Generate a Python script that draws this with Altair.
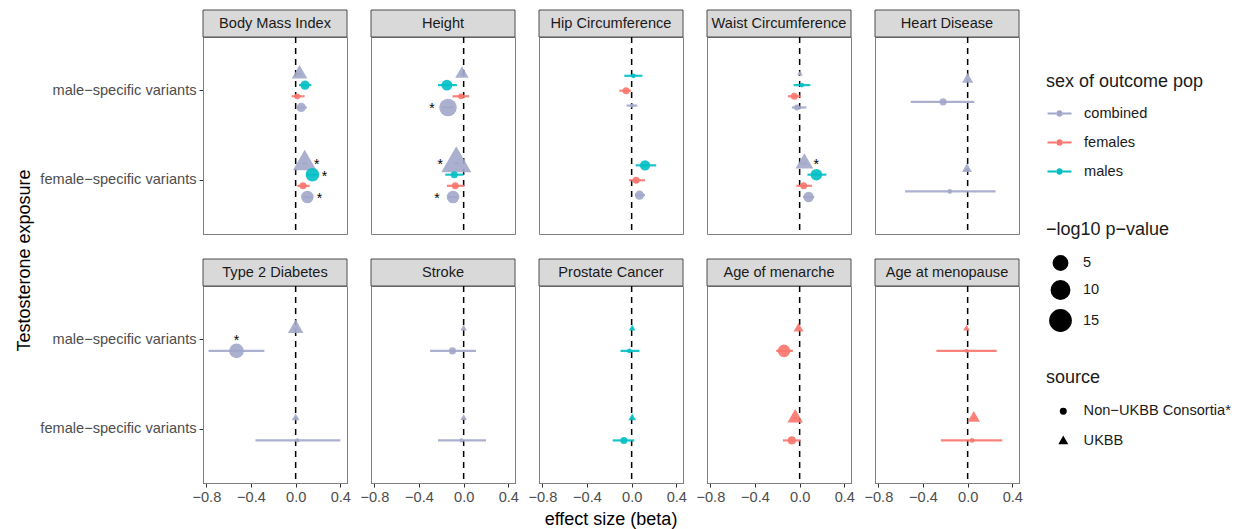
import altair as alt
import pandas as pd

# ---------------- data ----------------
outcomes = ["Body Mass Index", "Height", "Hip Circumference", "Waist Circumference",
            "Heart Disease", "Type 2 Diabetes", "Stroke", "Prostate Cancer",
            "Age of menarche", "Age at menopause"]
exposures = ["male−specific variants", "female−specific variants"]
sexes = ["combined", "females", "males"]
sources = ["Non−UKBB Consortia*", "UKBB"]
sex_colors = ["#A2A7CA", "#F8766D", "#00BFC4"]

row_outcome = [0, 0, 0, 0, 0, 0, 0, 0,
               1, 1, 1, 1, 1, 1, 1, 1,
               2, 2, 2, 2, 2, 2,
               3, 3, 3, 3, 3, 3, 3, 3,
               4, 4, 4, 4,
               5, 5, 5, 5,
               6, 6, 6, 6,
               7, 7, 7, 7,
               8, 8, 8, 8,
               9, 9, 9, 9]
row_exposure = [0, 0, 0, 0, 1, 1, 1, 1,
                0, 0, 0, 0, 1, 1, 1, 1,
                0, 0, 0, 1, 1, 1,
                0, 0, 0, 0, 1, 1, 1, 1,
                0, 0, 1, 1,
                0, 0, 1, 1,
                0, 0, 1, 1,
                0, 0, 1, 1,
                0, 0, 1, 1,
                0, 0, 1, 1]
row_sex = [0, 2, 1, 0, 0, 2, 1, 0,
           0, 2, 1, 0, 0, 2, 1, 0,
           2, 1, 0, 2, 1, 0,
           0, 2, 1, 0, 0, 2, 1, 0,
           0, 0, 0, 0,
           0, 0, 0, 0,
           0, 0, 0, 0,
           2, 2, 2, 2,
           1, 1, 1, 1,
           1, 1, 1, 1]
row_source = [1, 0, 0, 0, 1, 0, 0, 0,
              1, 0, 0, 0, 1, 0, 0, 0,
              0, 0, 0, 0, 0, 0,
              1, 0, 0, 0, 1, 0, 0, 0,
              1, 0, 1, 0,
              1, 0, 1, 0,
              1, 0, 1, 0,
              1, 0, 1, 0,
              1, 0, 1, 0,
              1, 0, 1, 0]
beta = [0.035, 0.084, 0.015, 0.05, 0.081, 0.15, 0.066, 0.105,
        -0.015, -0.15, -0.024, -0.14, -0.066, -0.084, -0.075, -0.095,
        0.015, -0.05, 0.003, 0.12, 0.04, 0.07,
        0.003, 0.02, -0.048, -0.024, 0.042, 0.15, 0.036, 0.08,
        0.0, -0.22, -0.006, -0.16,
        0.0, -0.53, 0.0, 0.015,
        0.0, -0.10, 0.0, -0.02,
        0.005, -0.02, 0.005, -0.07,
        -0.01, -0.14, -0.04, -0.07,
        -0.01, -0.01, 0.055, 0.04]
lo = [0.015, 0.03, -0.036, 0.015, 0.06, 0.10, 0.015, 0.06,
      -0.03, -0.23, -0.10, -0.19, -0.09, -0.165, -0.15, -0.14,
      -0.066, -0.11, -0.045, 0.035, -0.024, 0.03,
      -0.01, -0.054, -0.105, -0.07, 0.02, 0.07, -0.03, 0.03,
      -0.01, -0.51, -0.02, -0.56,
      -0.02, -0.78, -0.01, -0.36,
      -0.01, -0.30, -0.01, -0.23,
      -0.005, -0.10, -0.005, -0.17,
      -0.02, -0.21, -0.06, -0.15,
      -0.02, -0.28, 0.04, -0.24]
hi = [0.055, 0.14, 0.08, 0.10, 0.10, 0.20, 0.126, 0.15,
      0.0, -0.06, 0.05, -0.09, -0.04, 0.0, 0.006, -0.05,
      0.096, -0.006, 0.05, 0.22, 0.12, 0.12,
      0.015, 0.096, 0.012, 0.06, 0.06, 0.24, 0.11, 0.13,
      0.01, 0.06, 0.01, 0.25,
      0.02, -0.28, 0.01, 0.40,
      0.01, 0.11, 0.01, 0.20,
      0.015, 0.07, 0.015, 0.024,
      0.0, -0.06, -0.02, 0.01,
      0.0, 0.26, 0.07, 0.31]
logp = [2.6, 1.3, 0.22, 1.3, 8.8, 4.2, 0.5, 3.35,
        1.65, 2.2, 0.22, 8.8, 17.0, 0.5, 0.5, 3.35,
        0.06, 0.5, 0.01, 1.9, 0.5, 1.3,
        0.01, 0.06, 0.5, 0.22, 3.85, 2.6, 0.5, 1.9,
        0.88, 0.5, 0.6, 0.06,
        2.6, 5.2, 0.2, 0.01,
        0.08, 0.5, 0.08, 0.01,
        0.08, 0.06, 0.2, 0.5,
        0.6, 3.35, 2.6, 0.85,
        0.08, 0.0, 1.3, 0.06]
star = ["", "", "", "", "right", "right", "", "right",
        "", "", "", "left", "left", "", "", "left",
        "", "", "", "", "", "",
        "", "", "", "", "right", "", "", "",
        "", "", "", "",
        "", "above", "", "",
        "", "", "", "",
        "", "", "", "",
        "", "", "", "",
        "", "", "", ""]

df = pd.DataFrame({
    "outcome": [outcomes[i] for i in row_outcome],
    "exposure": [exposures[i] for i in row_exposure],
    "sex": [sexes[i] for i in row_sex],
    "source": [sources[i] for i in row_source],
    "beta": beta, "lo": lo, "hi": hi, "logp": logp, "star": star,
})
# dodge group: UKBB first, then consortia males, females, combined
dodge_key = {"males": "b", "females": "c", "combined": "d"}
df["grp"] = [("a" if s == "UKBB" else dodge_key[x]) for s, x in zip(df["source"], df["sex"])]

# ---------------- chart ----------------
W, H = 144, 197
FONT = "Liberation Sans"
TXT = 14.6     # axis / strip / legend label size
TTL = 18       # axis / legend title size
TRI = "M0,-1.56L1.35,0.78L-1.35,0.78Z"
LEG_LINE = ("M-1.6,-0.14H-0.4V0.14H-1.6Z M0.4,-0.14H1.6V0.14H0.4Z "
            "M-0.44,0A0.44,0.44,0,1,0,0.44,0A0.44,0.44,0,1,0,-0.44,0Z")

xscale = alt.Scale(domain=[-0.83, 0.46], nice=False, zero=False)
xaxis = alt.Axis(values=[-0.8, -0.4, 0.0, 0.4], format=".1f", title=None)
y_enc = alt.Y("exposure:N", sort=exposures,
              scale=alt.Scale(type="band", paddingInner=0, paddingOuter=0.1),
              axis=alt.Axis(title=None, labelPadding=3))
yoff = alt.YOffset("grp:N", sort=["a", "b", "c", "d"], scale=alt.Scale(range=[22.4, 67.1]))
color_enc = alt.Color("sex:N", scale=alt.Scale(domain=sexes, range=sex_colors),
                      legend=alt.Legend(title="sex of outcome pop", orient="none",
                                        legendX=843, legendY=36,
                                        symbolType=LEG_LINE, symbolSize=225,
                                        symbolStrokeWidth=0, symbolOpacity=1,
                                        symbolOffset=6,
                                        titleFontSize=TTL, labelFontSize=TXT,
                                        titlePadding=15, rowPadding=13, labelOffset=17))
size_enc = alt.Size("logp:Q",
                    scale=alt.Scale(type="pow", exponent=0.75, domain=[0, 20], range=[15.5, 557]),
                    legend=alt.Legend(title="−log10 p−value", values=[5, 10, 15], orient="none",
                                      legendX=843, legendY=184,
                                      symbolType="circle", symbolFillColor="black",
                                      symbolStrokeColor="black", symbolOpacity=1,
                                      symbolOffset=3,
                                      titleFontSize=TTL, labelFontSize=TXT,
                                      titlePadding=16, rowPadding=3, labelOffset=11))
shape_enc = alt.Shape("source:N", scale=alt.Scale(domain=sources, range=["circle", TRI]),
                      legend=alt.Legend(title="source", orient="none",
                                        legendX=843, legendY=332,
                                        symbolSize=30, symbolFillColor="black",
                                        symbolStrokeColor="black", symbolOpacity=1,
                                        symbolOffset=10,
                                        titleFontSize=TTL, labelFontSize=TXT,
                                        titlePadding=17, rowPadding=15, labelOffset=13))

one_per_panel = dict(n="count()", groupby=["outcome"])

strip_rect = alt.Chart().transform_aggregate(**one_per_panel).mark_rect(
    fill="#D9D9D9", stroke="#4D4D4D", strokeWidth=1
).encode(x=alt.value(0), x2=alt.value(W), y=alt.value(-27), y2=alt.value(0))

strip_text = alt.Chart().transform_aggregate(**one_per_panel).mark_text(
    fontSize=TXT, color="#1A1A1A", baseline="middle"
).encode(text="outcome:N", x=alt.value(W / 2), y=alt.value(-13.5))

vline = alt.Chart().transform_aggregate(**one_per_panel).mark_rule(
    color="black", strokeDash=[6, 5], strokeWidth=1.5
).encode(x=alt.datum(0, scale=xscale))

bars = alt.Chart().mark_rule(strokeWidth=2.2, opacity=0.9).encode(
    x=alt.X("lo:Q", scale=xscale, axis=xaxis), x2="hi:Q",
    y=y_enc, yOffset=yoff, color=color_enc)

points = alt.Chart().mark_point(filled=True, opacity=0.9).encode(
    x=alt.X("beta:Q", scale=xscale, axis=xaxis),
    y=y_enc, yOffset=yoff, color=color_enc, size=size_enc, shape=shape_enc)


def stars(side, dx, dy):
    return alt.Chart().transform_filter(alt.datum.star == side).mark_text(
        text="*", fontSize=14, color="black", dx=dx, dy=dy, baseline="middle"
    ).encode(x=alt.X("beta:Q", scale=xscale, axis=xaxis), y=y_enc, yOffset=yoff)


ytitle = alt.Chart().transform_filter(alt.datum.outcome == outcomes[0]).transform_aggregate(
    **one_per_panel).mark_text(fontSize=TTL, angle=270, color="black", baseline="middle").encode(
    x=alt.value(-178), y=alt.value(223.5), text=alt.value("Testosterone exposure"))

xtitle = alt.Chart().transform_filter(alt.datum.outcome == outcomes[7]).transform_aggregate(
    **one_per_panel).mark_text(fontSize=TTL, color="black", baseline="middle").encode(
    x=alt.value(W / 2), y=alt.value(234), text=alt.value("effect size (beta)"))

layered = alt.layer(strip_rect, strip_text, vline, bars, points,
                    stars("right", 12, 2), stars("left", -16, 2), stars("above", 0, -10),
                    ytitle, xtitle, data=df).properties(width=W, height=H)

chart = layered.facet(
    facet=alt.Facet("outcome:N", sort=outcomes,
                    header=alt.Header(title=None, labels=False, labelFontSize=0, labelPadding=0,
                                      labelExpr="''", titlePadding=0)),
    columns=5, spacing={"row": 52, "column": 24}, bounds="flush",
).resolve_scale(yOffset="independent").properties(
    padding={"left": 15, "top": 9, "right": 2, "bottom": 2}
).configure(font=FONT).configure_header(
    labels=False, labelFontSize=0, labelPadding=0
).configure_headerFacet(
    labels=False, labelFontSize=0, labelPadding=0
).configure_view(
    stroke="#7F7F7F", strokeWidth=1
).configure_axis(
    grid=False, labelFont=FONT, labelFontSize=TXT, labelColor="#4D4D4D",
    tickColor="#333333", tickSize=4, domainColor="#000000", domainWidth=1
).configure_legend(labelFont=FONT, titleFont=FONT, titleFontWeight="normal",
                   labelColor="#1A1A1A", titleColor="#1A1A1A")

chart.save("out.html", embed_options={"renderer": "svg", "actions": False})
